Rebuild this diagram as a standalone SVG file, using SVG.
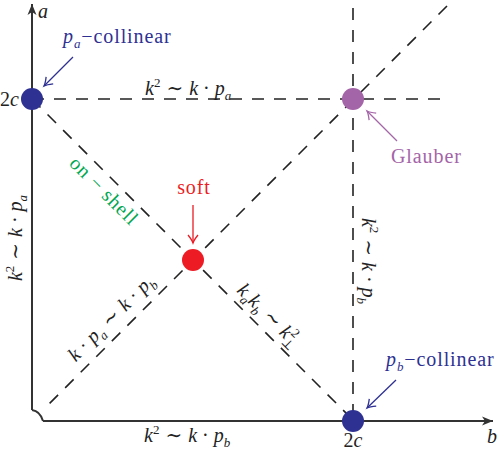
<svg xmlns="http://www.w3.org/2000/svg" width="498" height="450" viewBox="0 0 498 450">
<style>
text{font-family:"Liberation Serif","DejaVu Serif",serif;font-size:20px;fill:#222}
.w{letter-spacing:0.9px}
.i{font-style:italic}
.sup{font-size:13px;font-style:normal}
.sub{font-size:13px;font-style:italic}
.dash{stroke:#222;stroke-width:1.6;stroke-dasharray:12 10;fill:none}
.axis{stroke:#333;stroke-width:2;fill:none}
</style>
<defs>
<marker id="ax" markerUnits="userSpaceOnUse" markerWidth="16" markerHeight="12" viewBox="-12 -6 14 12" refX="0" refY="0" orient="auto">
<path d="M0,0 L-11,-4.5 L-8,0 L-11,4.5 Z" fill="#333"/>
</marker>
<marker id="hb" markerUnits="userSpaceOnUse" markerWidth="14" markerHeight="12" viewBox="-10 -6 12 12" refX="0" refY="0" orient="auto">
<path d="M-8,-5 Q-3,-1 0,0 Q-3,1 -8,5" fill="none" stroke="#2e3192" stroke-width="1.3"/>
</marker>
<marker id="hp" markerUnits="userSpaceOnUse" markerWidth="14" markerHeight="12" viewBox="-10 -6 12 12" refX="0" refY="0" orient="auto">
<path d="M-8,-5 Q-3,-1 0,0 Q-3,1 -8,5" fill="none" stroke="#a464a8" stroke-width="1.3"/>
</marker>
<marker id="hr" markerUnits="userSpaceOnUse" markerWidth="14" markerHeight="12" viewBox="-10 -6 12 12" refX="0" refY="0" orient="auto">
<path d="M-8,-5 Q-3,-1 0,0 Q-3,1 -8,5" fill="none" stroke="#ed1c24" stroke-width="1.3"/>
</marker>
</defs>

<g id="axes">
<path class="axis" d="M32,410 L32,4" marker-end="url(#ax)"/>
<path class="axis" d="M43,421 L493,421" marker-end="url(#ax)"/>
<path class="axis" d="M32,410 Q40,411 43,421" stroke-width="1.6"/>
<text x="38" y="18" class="i">a</text>
<text x="487" y="443" class="i">b</text>
</g>

<g id="connectors">
<line class="dash" x1="32" y1="99" x2="447" y2="99"/>
<line class="dash" x1="353" y1="8" x2="353" y2="421"/>
<line class="dash" x1="32" y1="99" x2="353" y2="420"/>
<line class="dash" x1="447" y1="6" x2="44" y2="409"/>
<line x1="73" y1="57" x2="44" y2="86" stroke="#2e3192" stroke-width="1.3" marker-end="url(#hb)"/>
<line x1="397" y1="141" x2="367" y2="111" stroke="#a464a8" stroke-width="1.3" marker-end="url(#hp)"/>
<line x1="193" y1="205" x2="193" y2="243" stroke="#ed1c24" stroke-width="1.3" marker-end="url(#hr)"/>
<line x1="396" y1="380" x2="367" y2="408" stroke="#2e3192" stroke-width="1.3" marker-end="url(#hb)"/>
</g>

<g id="pa-collinear">
<circle cx="32" cy="99" r="11" fill="#2e3192"/>
<text x="0" y="106">2<tspan class="i">c</tspan></text>
<text x="63" y="43" class="w" style="fill:#2e3192"><tspan class="i">p</tspan><tspan class="sub" dy="5">a</tspan><tspan dy="-5">−collinear</tspan></text>
</g>

<g id="glauber">
<circle cx="353" cy="99" r="11" fill="#a464a8"/>
<text x="391" y="163" class="w" style="fill:#a464a8">Glauber</text>
</g>

<g id="soft">
<circle cx="193" cy="260" r="11" fill="#ed1c24"/>
<text x="194" y="194" text-anchor="middle" class="w" style="fill:#ed1c24">soft</text>
</g>

<g id="pb-collinear">
<circle cx="353" cy="421" r="11" fill="#2e3192"/>
<text x="353" y="447" text-anchor="middle">2<tspan class="i">c</tspan></text>
<text x="386" y="366" class="w" style="fill:#2e3192"><tspan class="i">p</tspan><tspan class="sub" dy="5">b</tspan><tspan dy="-5">−collinear</tspan></text>
</g>

<g id="labels">
<text x="145" y="95"><tspan class="i">k</tspan><tspan class="sup" dy="-8">2</tspan><tspan dy="8" dx="6">∼</tspan><tspan class="i" dx="6">k</tspan><tspan dx="5">·</tspan><tspan class="i" dx="5">p</tspan><tspan class="sub" dy="5">a</tspan></text>
<text x="144" y="442"><tspan class="i">k</tspan><tspan class="sup" dy="-8">2</tspan><tspan dy="8" dx="6">∼</tspan><tspan class="i" dx="6">k</tspan><tspan dx="5">·</tspan><tspan class="i" dx="5">p</tspan><tspan class="sub" dy="5">b</tspan></text>
<text transform="translate(17,238) rotate(-90)" x="0" y="5" text-anchor="middle"><tspan class="i">k</tspan><tspan class="sup" dy="-8">2</tspan><tspan dy="8" dx="6">∼</tspan><tspan class="i" dx="6">k</tspan><tspan dx="5">·</tspan><tspan class="i" dx="5">p</tspan><tspan class="sub" dy="5">a</tspan></text>
<text transform="translate(367,261) rotate(90)" x="0" y="5" text-anchor="middle"><tspan class="i">k</tspan><tspan class="sup" dy="-8">2</tspan><tspan dy="8" dx="6">∼</tspan><tspan class="i" dx="6">k</tspan><tspan dx="5">·</tspan><tspan class="i" dx="5">p</tspan><tspan class="sub" dy="5">b</tspan></text>
<text transform="translate(103,192) rotate(45)" x="0" y="5" text-anchor="middle" class="w" style="fill:#00a651">on − shell</text>
<text transform="translate(112,319) rotate(-45)" x="0" y="5" text-anchor="middle"><tspan class="i">k</tspan><tspan dx="5">·</tspan><tspan class="i" dx="5">p</tspan><tspan class="sub" dy="5">a</tspan><tspan dy="-5" dx="6">∼</tspan><tspan class="i" dx="6">k</tspan><tspan dx="5">·</tspan><tspan class="i" dx="5">p</tspan><tspan class="sub" dy="5">b</tspan></text>
<text transform="translate(268,316) rotate(45)" x="0" y="5" text-anchor="middle"><tspan class="i">k</tspan><tspan class="sub" dy="5">a</tspan><tspan class="i" dy="-5">k</tspan><tspan class="sub" dy="5">b</tspan><tspan dy="-5" dx="6">∼</tspan><tspan class="i" dx="6">k</tspan><tspan class="sup" dy="-8">2</tspan><tspan class="sup" dy="13" dx="-7">⊥</tspan></text>
</g>
</svg>
